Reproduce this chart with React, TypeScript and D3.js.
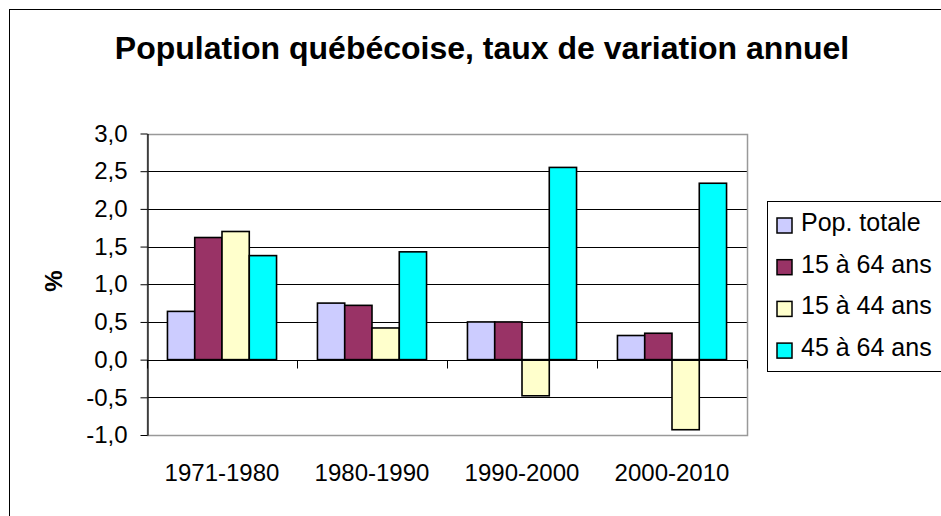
import React, { useEffect, useRef } from 'react';
import * as d3 from 'd3';

const categories = ['1971-1980', '1980-1990', '1990-2000', '2000-2010'];
const seriesNames = ['Pop. totale', '15 à 64 ans', '15 à 44 ans', '45 à 64 ans'];
const popTotale = [0.64, 0.75, 0.5, 0.32];
const pop15a64 = [1.62, 0.72, 0.5, 0.35];
const pop15a44 = [1.7, 0.42, -0.48, -0.93];
const pop45a64 = [1.38, 1.43, 2.55, 2.34];
const yTicks = [-1, -0.5, 0, 0.5, 1, 1.5, 2, 2.5, 3];
const colors = ['#CCCCFF', '#993366', '#FFFFCC', '#00FFFF'];

const FONT = '"Liberation Sans", Arial, sans-serif';

export default function App() {
  const ref = useRef<SVGSVGElement>(null);

  useEffect(() => {
    const svg = d3.select(ref.current);
    svg.selectAll('*').remove();

    const series = [popTotale, pop15a64, pop15a44, pop45a64];
    const left = 147, right = 747, top = 133.5, bottom = 435;

    const x = d3.scaleBand<string>()
      .domain(categories)
      .range([left, right])
      .paddingInner(1.5 / 5.5)
      .paddingOuter(0.75 / 5.5);

    const xs = d3.scaleBand<number>()
      .domain(d3.range(series.length))
      .range([0, x.bandwidth()]);

    const y = d3.scaleLinear().domain([-1, 3]).range([bottom, top]);

    const locale = d3.formatLocale({ decimal: ',', thousands: ' ', grouping: [3], currency: ['', ''], minus: '-' });
    const fmt = locale.format('.1f');

    // outer frame
    svg.append('rect')
      .attr('x', 9.5).attr('y', 9.5)
      .attr('width', 1000).attr('height', 1000)
      .attr('fill', 'none').attr('stroke', '#000');

    // title
    svg.append('text')
      .attr('x', 482).attr('y', 59)
      .attr('text-anchor', 'middle')
      .attr('font-family', FONT)
      .attr('font-weight', 'bold')
      .attr('font-size', 32)
      .text('Population québécoise, taux de variation annuel');

    // gridlines
    svg.append('g')
      .selectAll('line')
      .data(yTicks.filter(t => t > -1 && t < 3))
      .enter()
      .append('line')
      .attr('x1', left).attr('x2', right)
      .attr('y1', d => Math.round(y(d)) + 0.5)
      .attr('y2', d => Math.round(y(d)) + 0.5)
      .attr('stroke', '#000');

    // plot border
    svg.append('rect')
      .attr('x', left + 0.5).attr('y', Math.round(top) + 0.5)
      .attr('width', right - left)
      .attr('height', Math.round(bottom) - Math.round(top))
      .attr('fill', 'none')
      .attr('stroke', '#999')
      .attr('stroke-width', 1.5);

    // bars
    const groups = svg.append('g')
      .selectAll('g')
      .data(series)
      .enter()
      .append('g')
      .attr('fill', (d, i) => colors[i]);

    groups.selectAll('rect')
      .data((d, i) => d.map((v, j) => ({ v, j, i })))
      .enter()
      .append('rect')
      .attr('x', d => (x(categories[d.j]) as number) + (xs(d.i) as number))
      .attr('width', xs.bandwidth())
      .attr('y', d => y(Math.max(0, d.v)))
      .attr('height', d => Math.abs(y(d.v) - y(0)))
      .attr('stroke', '#000')
      .attr('stroke-width', 1.6);

    // y axis
    const yAxis = d3.axisLeft(y)
      .tickValues(yTicks)
      .tickSize(7)
      .tickSizeOuter(0)
      .tickPadding(13)
      .tickFormat(d => fmt(d as number));

    const gy = svg.append('g')
      .attr('transform', `translate(${left + 0.5},0)`)
      .call(yAxis);
    gy.selectAll('text')
      .attr('font-family', FONT)
      .attr('font-size', 24)
      .attr('fill', '#000');
    gy.select('.domain').attr('stroke', '#000').attr('stroke-width', 1.2);

    // category axis at zero
    const y0 = Math.round(y(0)) + 0.5;
    svg.append('line')
      .attr('x1', left).attr('x2', right)
      .attr('y1', y0).attr('y2', y0)
      .attr('stroke', '#000');

    svg.append('g')
      .selectAll('line')
      .data(d3.range(categories.length + 1))
      .enter()
      .append('line')
      .attr('x1', i => Math.round(left + i * x.step()) + 0.5)
      .attr('x2', i => Math.round(left + i * x.step()) + 0.5)
      .attr('y1', y0).attr('y2', y0 + 8)
      .attr('stroke', '#000');

    svg.append('g')
      .selectAll('text')
      .data(categories)
      .enter()
      .append('text')
      .attr('x', d => (x(d) as number) + x.bandwidth() / 2)
      .attr('y', 481)
      .attr('text-anchor', 'middle')
      .attr('font-family', FONT)
      .attr('font-size', 24)
      .text(d => d);

    // y axis title
    svg.append('text')
      .attr('transform', 'translate(54,281) rotate(-90)')
      .attr('dy', '0.35em')
      .attr('text-anchor', 'middle')
      .attr('font-family', FONT)
      .attr('font-weight', 'bold')
      .attr('font-size', 24)
      .text('%');

    // legend
    const legend = svg.append('g');
    legend.append('rect')
      .attr('x', 767.5).attr('y', 201.5)
      .attr('width', 250).attr('height', 170)
      .attr('fill', '#fff')
      .attr('stroke', '#000');

    const items = legend.selectAll('g.item')
      .data(seriesNames)
      .enter()
      .append('g')
      .attr('transform', (d, i) => `translate(0,${231 + i * 41.7})`);

    items.append('rect')
      .attr('x', 777).attr('y', -13)
      .attr('width', 15).attr('height', 15)
      .attr('fill', (d, i) => colors[i])
      .attr('stroke', '#000')
      .attr('stroke-width', 1.5);

    items.append('text')
      .attr('x', 801).attr('y', 0)
      .attr('font-family', FONT)
      .attr('font-size', 25)
      .text(d => d);
  }, []);

  return (
    <svg
      ref={ref}
      width={941}
      height={516}
      style={{ position: 'absolute', left: 0, top: 0, background: '#fff' }}
    />
  );
}
